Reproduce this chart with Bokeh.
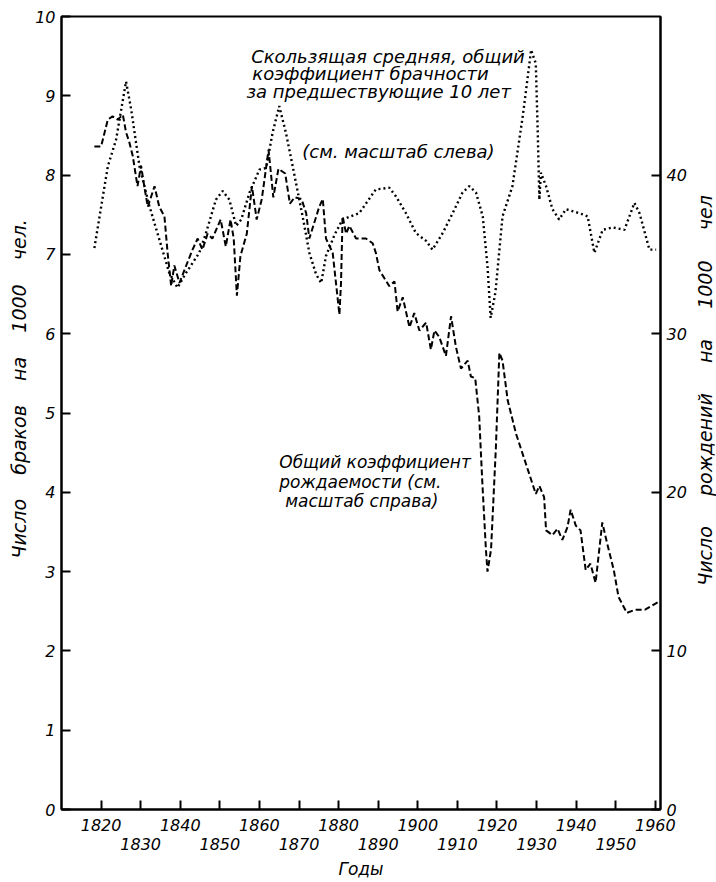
from bokeh.plotting import figure
from bokeh.layouts import row
from bokeh.models import Range1d, LinearAxis, FixedTicker, Label
from bokeh.embed import file_html
from bokeh.resources import INLINE

# ---------------- data ----------------
# moving average of marriage rate (left scale, per 1000)
marriage_years = [1818.3, 1821.7, 1823.8, 1826.3, 1827.6, 1829.7, 1832.2, 1834.7, 1837.2, 1839.3,
                  1841.5, 1844.8, 1846.5, 1849.0, 1850.7, 1852.4, 1854.1, 1855.4, 1857.5, 1860.0,
                  1861.7, 1863.3, 1865.0, 1866.7, 1868.4, 1870.9, 1872.6, 1874.3, 1875.6, 1876.8,
                  1879.0, 1881.0, 1885.2, 1889.4, 1892.8, 1894.5, 1897.0, 1899.5, 1902.1, 1903.7,
                  1906.3, 1908.8, 1911.3, 1913.0, 1914.7, 1916.4, 1917.6, 1918.4, 1919.6, 1921.4,
                  1923.9, 1926.5, 1928.2, 1928.6, 1929.8, 1930.3, 1930.7, 1931.1, 1932.4, 1934.0,
                  1935.7, 1937.4, 1940.8, 1942.9, 1944.6, 1946.7, 1949.2, 1952.2, 1954.7, 1956.0,
                  1958.5, 1960.2]
marriage_rate = [7.08, 8.11, 8.45, 9.18, 8.83, 8.11, 7.61, 7.19, 6.77, 6.58,
                 6.77, 7.02, 7.27, 7.69, 7.80, 7.69, 7.36, 7.44, 7.78, 8.07,
                 8.09, 8.53, 8.87, 8.53, 8.11, 7.48, 7.02, 6.75, 6.64, 6.98,
                 7.25, 7.44, 7.52, 7.82, 7.84, 7.73, 7.52, 7.27, 7.17, 7.06,
                 7.27, 7.52, 7.78, 7.86, 7.78, 7.48, 6.85, 6.20, 6.52, 7.48,
                 7.86, 8.74, 9.41, 9.58, 9.41, 8.53, 7.69, 8.03, 7.86, 7.57,
                 7.44, 7.57, 7.52, 7.48, 7.02, 7.31, 7.34, 7.31, 7.65, 7.52,
                 7.06, 7.06]

# crude birth rate (right scale, per 1000)
birth_years = [1818.3, 1820.0, 1821.7, 1822.9, 1824.2, 1825.5, 1826.3, 1827.1, 1828.0, 1829.2,
               1830.1, 1830.9, 1831.8, 1833.5, 1834.7, 1836.0, 1836.8, 1837.7, 1838.5, 1839.8,
               1841.5, 1843.1, 1844.4, 1845.6, 1846.9, 1848.1, 1850.2, 1851.5, 1852.7, 1853.5,
               1854.3, 1855.2, 1856.8, 1858.1, 1859.3, 1860.6, 1862.3, 1863.5, 1864.8, 1866.5,
               1867.7, 1868.9, 1870.6, 1871.8, 1872.6, 1875.1, 1876.0, 1876.8, 1878.5, 1880.2,
               1880.6, 1881.0, 1881.9, 1882.7, 1884.4, 1886.9, 1888.6, 1889.4, 1890.3, 1892.8,
               1894.1, 1894.9, 1896.2, 1897.9, 1899.1, 1900.4, 1902.1, 1903.3, 1904.2, 1905.4,
               1907.1, 1908.4, 1909.6, 1910.9, 1912.6, 1913.4, 1914.5, 1915.5, 1916.3, 1917.2,
               1917.6, 1918.5, 1919.7, 1920.6, 1921.4, 1922.7, 1924.8, 1927.3, 1929.8, 1930.7,
               1931.9, 1932.4, 1934.0, 1935.3, 1936.5, 1937.8, 1938.6, 1939.9, 1941.1, 1942.4,
               1943.6, 1944.9, 1946.6, 1947.8, 1949.5, 1950.7, 1952.8, 1954.9, 1957.4, 1960.8]
birth_rate = [41.8, 41.8, 43.5, 43.7, 43.5, 43.8, 42.7, 42.1, 41.2, 39.3,
              40.6, 39.3, 38.0, 39.3, 38.0, 37.4, 35.1, 33.0, 34.3, 33.2,
              34.3, 35.3, 36.0, 35.3, 36.3, 36.0, 37.2, 35.5, 37.2, 36.0,
              32.4, 34.9, 36.3, 39.3, 37.2, 38.5, 41.6, 38.6, 40.4, 40.1,
              38.2, 38.6, 38.5, 37.6, 36.0, 38.0, 38.5, 36.0, 35.1, 31.2,
              33.2, 37.4, 36.3, 36.8, 36.0, 36.0, 35.7, 35.1, 34.0, 33.0,
              33.3, 31.4, 32.3, 30.4, 31.3, 30.2, 30.7, 29.0, 30.2, 29.8,
              28.6, 31.1, 29.2, 27.8, 28.3, 27.3, 27.2, 24.8, 20.6, 16.4,
              15.0, 16.4, 22.7, 28.8, 28.3, 25.8, 23.7, 21.8, 19.9, 20.4,
              19.7, 17.6, 17.3, 17.7, 17.0, 17.8, 18.9, 17.9, 17.6, 15.1,
              15.5, 14.3, 18.1, 16.8, 15.1, 13.4, 12.4, 12.6, 12.6, 13.1]

left_ticks = [0, 1, 2, 3, 4, 5, 6, 7, 8, 9, 10]
right_ticks = [0, 10, 20, 30, 40]
top_row_years = [1820, 1840, 1860, 1880, 1900, 1920, 1940, 1960]
bottom_row_years = [1830, 1850, 1870, 1890, 1910, 1930, 1950]

FONT = "DejaVu Sans"
NB = "\u00a0"
# leading no-break spaces lift the visible title a little above the frame centre
left_title = NB * 8 + "Число" + NB * 4 + "браков" + NB * 4 + "на" + NB * 4 + "1000" + NB * 4 + "чел."
right_title = "Число" + NB * 5 + "рождений" + NB * 5 + "на" + NB * 5 + "1000" + NB * 5 + "чел"

FRAME_H = 793
TOP, BOTTOM = 16, 71

p = figure(frame_width=599, frame_height=FRAME_H,
           x_range=Range1d(1810, 1961.3), y_range=Range1d(0, 10),
           output_backend="svg", toolbar_location=None,
           min_border_left=61, min_border_right=30, min_border_top=TOP, min_border_bottom=BOTTOM,
           background_fill_color="white", border_fill_color="white")
p.extra_y_ranges = {"births": Range1d(0, 50)}
p.grid.visible = False
p.outline_line_color = "black"
p.outline_line_width = 2


def style_axis(ax, size="16px"):
    ax.axis_line_color = "black"
    ax.axis_line_width = 2
    ax.major_tick_in = 9
    ax.major_tick_out = 0
    ax.major_tick_line_width = 2
    ax.minor_tick_in = 9
    ax.minor_tick_out = 0
    ax.minor_tick_line_width = 2
    ax.major_label_text_font = FONT
    ax.major_label_text_font_style = "italic"
    ax.major_label_text_font_size = size
    ax.major_label_text_color = "black"
    ax.axis_label_text_font = FONT
    ax.axis_label_text_font_style = "italic"
    ax.axis_label_text_font_size = "17px"
    ax.axis_label_text_color = "black"


# x axis, first row of labels
xa = p.xaxis[0]
xa.ticker = FixedTicker(ticks=top_row_years, minor_ticks=bottom_row_years)
style_axis(xa)
xa.major_label_standoff = 9

# x axis, second row of labels
xb = LinearAxis(ticker=FixedTicker(ticks=bottom_row_years))
style_axis(xb)
xb.axis_line_color = None
xb.major_tick_line_color = None
xb.minor_tick_line_color = None
xb.major_label_standoff = 4
xb.axis_label = "Годы"
xb.axis_label_standoff = 6
p.add_layout(xb, "below")

# left axis
ya = p.yaxis[0]
ya.ticker = FixedTicker(ticks=left_ticks)
style_axis(ya)
ya.major_label_standoff = 6
ya.axis_label = left_title
ya.axis_label_standoff = 2
ya.axis_label_text_font_size = "19px"

# right axis
yr = LinearAxis(y_range_name="births", ticker=FixedTicker(ticks=right_ticks))
style_axis(yr)
yr.major_label_standoff = 6
p.add_layout(yr, "right")

# series
p.line(marriage_years, marriage_rate, line_color="black", line_width=2.4,
       line_dash="2 3", line_cap="butt")
p.line(birth_years, birth_rate, y_range_name="births", line_color="black",
       line_width=2, line_dash="6 3", line_cap="butt")

# annotations
notes = [
    (1857.9, 9.50, "Скользящая средняя, общий", "18px"),
    (1858.2, 9.28, "коэффициент брачности", "18px"),
    (1856.7, 9.06, "за предшествующие 10 лет", "18px"),
    (1870.8, 8.30, "(см. масштаб слева)", "18px"),
    (1865.0, 4.38, "Общий коэффициент", "17px"),
    (1865.0, 4.13, "рождаемости (см.", "17px"),
    (1866.5, 3.89, "масштаб справа)", "17px"),
]
for x, y, t, fs in notes:
    p.add_layout(Label(x=x, y=y, text=t, text_font=FONT, text_font_style="italic",
                       text_font_size=fs, text_color="black",
                       text_baseline="middle", text_align="left"))

# narrow side panel: its own (bare) left axis carries the right-hand title,
# reading upwards; the panel's frame is centred where the title should sit
TITLE_FRAME_H = 748
pr = figure(frame_width=1, frame_height=TITLE_FRAME_H,
            x_range=Range1d(0, 1), y_range=Range1d(0, 1),
            x_axis_type=None, output_backend="svg", toolbar_location=None,
            min_border_left=0, min_border_right=0, min_border_top=TOP,
            min_border_bottom=TOP + FRAME_H + BOTTOM - TOP - TITLE_FRAME_H,
            background_fill_color="white", border_fill_color="white")
pr.outline_line_color = None
pr.grid.visible = False
ta = pr.yaxis[0]
ta.ticker = FixedTicker(ticks=[])
ta.axis_line_color = None
ta.major_tick_line_color = None
ta.minor_tick_line_color = None
ta.major_label_text_font_size = "0px"
ta.axis_label = right_title
ta.axis_label_standoff = 2
ta.axis_label_text_font = FONT
ta.axis_label_text_font_style = "italic"
ta.axis_label_text_font_size = "19px"
ta.axis_label_text_color = "black"

layout = row(p, pr, spacing=0)
open("out.html", "w").write(file_html(layout, INLINE))
